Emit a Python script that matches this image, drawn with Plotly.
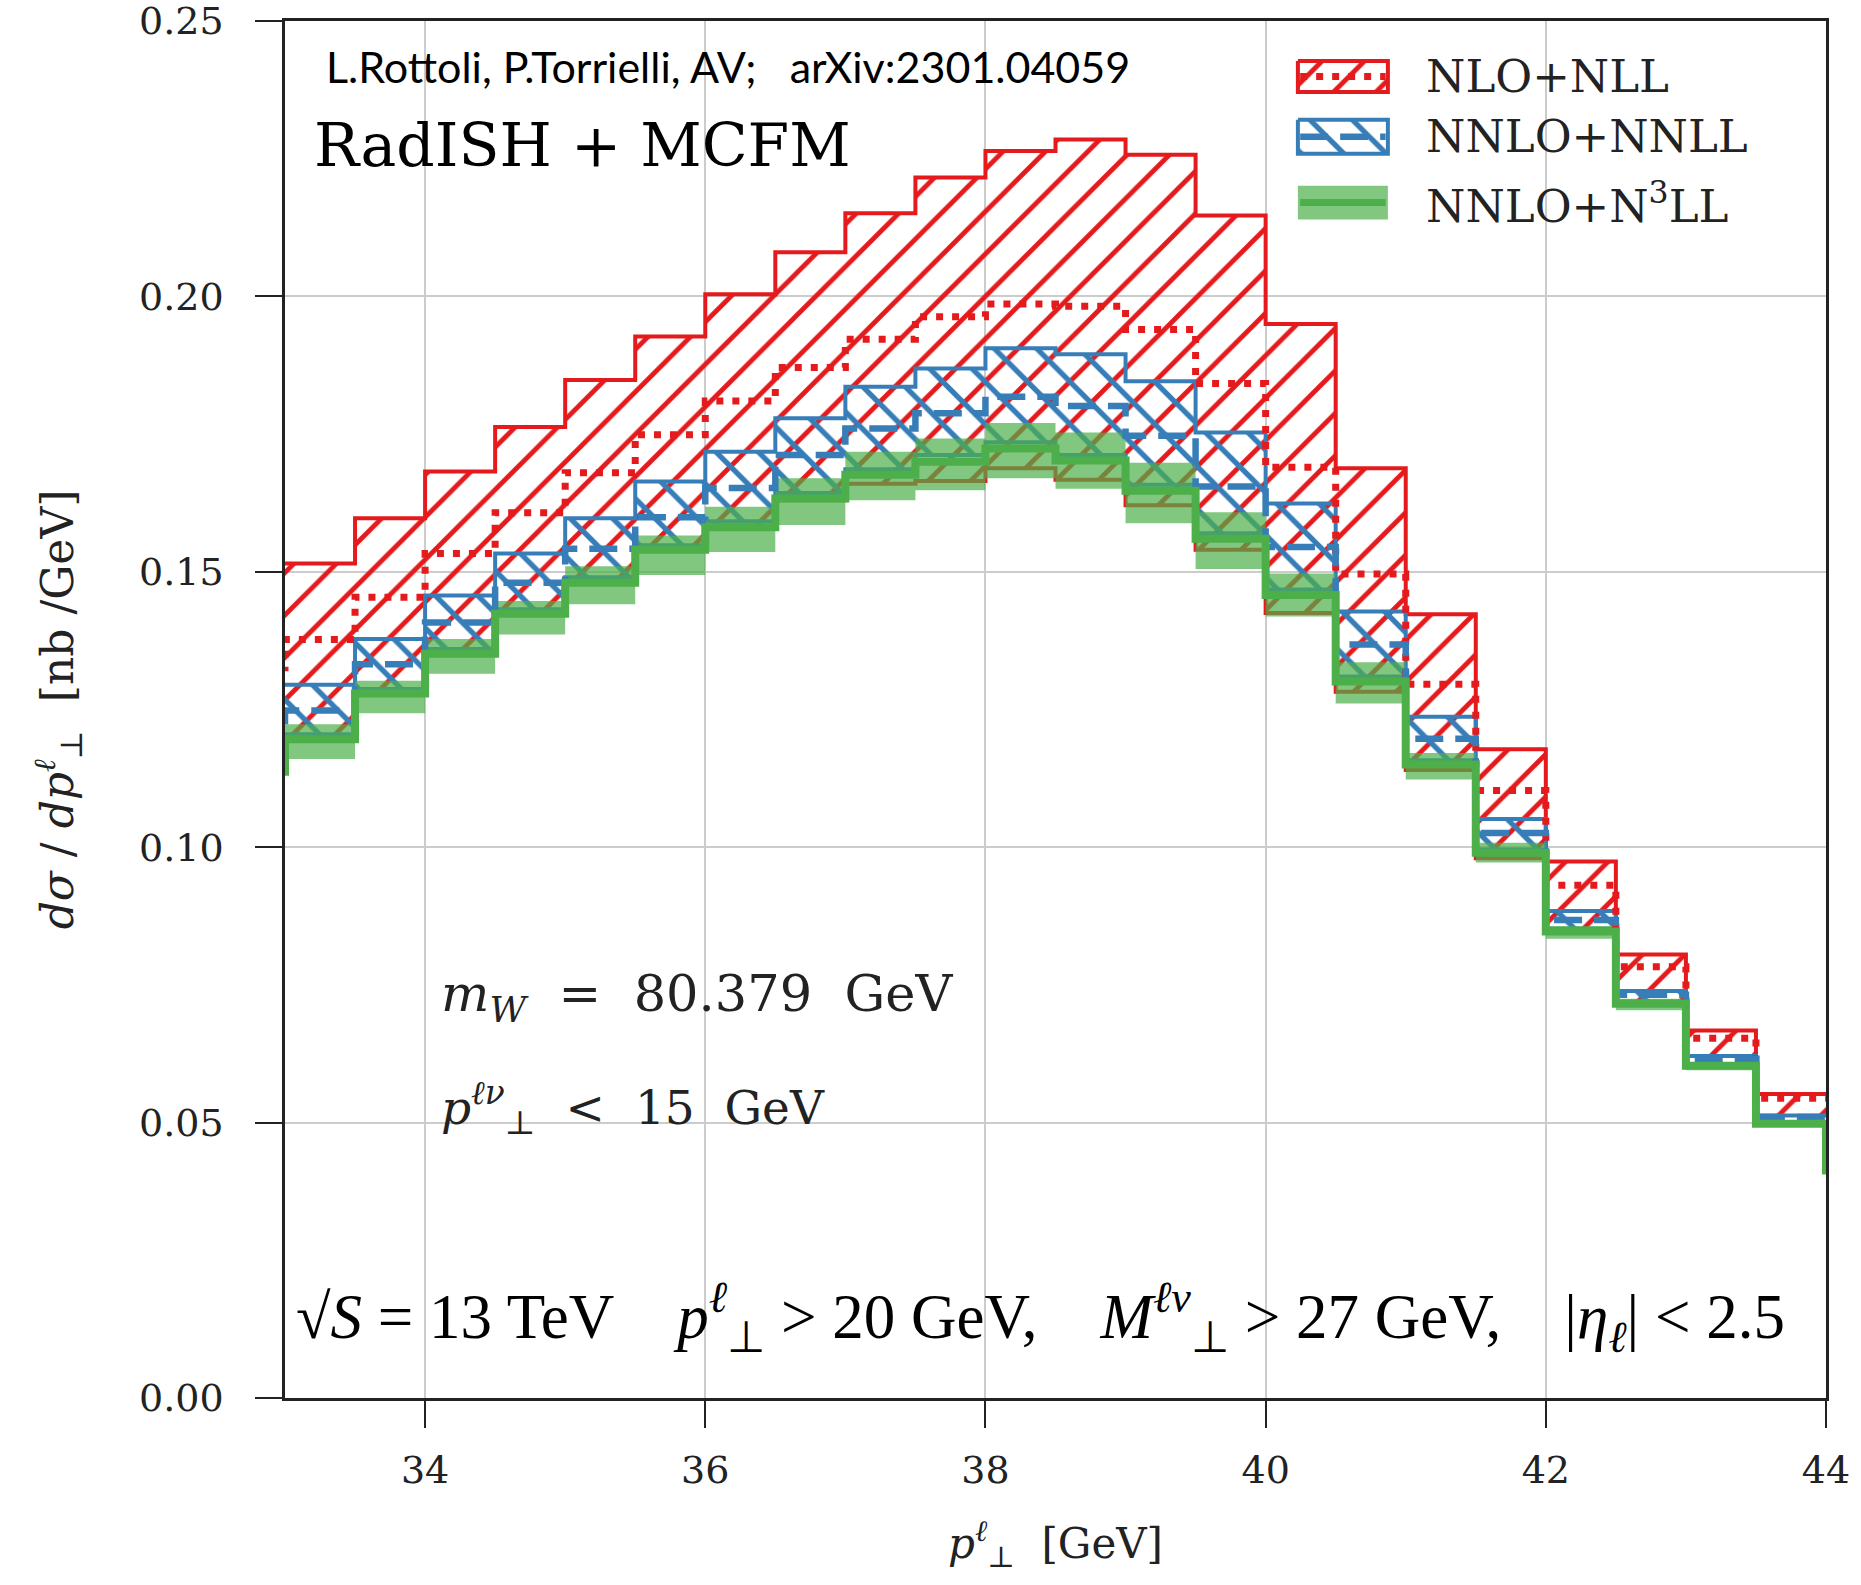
import plotly.graph_objects as go

# ---------------- data ----------------
# bin edges of the lepton transverse-momentum histogram [GeV]
edges = [33.0, 33.5, 34.0, 34.5, 35.0, 35.5, 36.0, 36.5, 37.0, 37.5, 38.0,
         38.5, 39.0, 39.5, 40.0, 40.5, 41.0, 41.5, 42.0, 42.5, 43.0, 43.5, 44.0]

# NLO+NLL  (d sigma / d pT  [nb/GeV])
nll_low = [0.1200, 0.1282, 0.1355, 0.1428, 0.1483, 0.1542, 0.1582, 0.1630, 0.1660, 0.1665, 0.1688,
           0.1667, 0.1621, 0.1540, 0.1425, 0.1282, 0.1140, 0.0980, 0.0845, 0.0714, 0.0602, 0.0497]
nll_central = [0.1377, 0.1454, 0.1533, 0.1607, 0.1680, 0.1749, 0.1810, 0.1871, 0.1922, 0.1963, 0.1986,
               0.1982, 0.1940, 0.1842, 0.1690, 0.1496, 0.1296, 0.1103, 0.0931, 0.0783, 0.0653, 0.0544]
nll_high = [0.1515, 0.1597, 0.1682, 0.1763, 0.1848, 0.1927, 0.2004, 0.2080, 0.2151, 0.2216, 0.2264,
            0.2285, 0.2257, 0.2147, 0.1950, 0.1688, 0.1423, 0.1178, 0.0974, 0.0805, 0.0667, 0.0552]

# NNLO+NNLL
nnll_low = [0.1205, 0.1287, 0.1360, 0.1432, 0.1490, 0.1548, 0.1592, 0.1643, 0.1686, 0.1712, 0.1735,
            0.1712, 0.1658, 0.1570, 0.1468, 0.1310, 0.1158, 0.0996, 0.0852, 0.0720, 0.0606, 0.0500]
nnll_central = [0.1248, 0.1332, 0.1408, 0.1480, 0.1542, 0.1599, 0.1652, 0.1712, 0.1760, 0.1788, 0.1818,
                0.1801, 0.1747, 0.1655, 0.1545, 0.1368, 0.1197, 0.1026, 0.0868, 0.0732, 0.0615, 0.0510]
nnll_high = [0.1295, 0.1378, 0.1457, 0.1533, 0.1597, 0.1664, 0.1718, 0.1779, 0.1836, 0.1869, 0.1906,
             0.1895, 0.1846, 0.1753, 0.1624, 0.1428, 0.1237, 0.1051, 0.0884, 0.0739, 0.0621, 0.0513]

# NNLO+N3LL
n3ll_low = [0.1160, 0.1243, 0.1315, 0.1386, 0.1441, 0.1494, 0.1536, 0.1585, 0.1630, 0.1648, 0.1670,
            0.1651, 0.1588, 0.1505, 0.1419, 0.1261, 0.1123, 0.0972, 0.0834, 0.0704, 0.0595, 0.0493]
n3ll_central = [0.1196, 0.1279, 0.1351, 0.1424, 0.1480, 0.1540, 0.1581, 0.1633, 0.1676, 0.1700, 0.1724,
                0.1702, 0.1647, 0.1560, 0.1458, 0.1301, 0.1150, 0.0990, 0.0847, 0.0716, 0.0603, 0.0498]
n3ll_high = [0.1223, 0.1302, 0.1378, 0.1447, 0.1510, 0.1566, 0.1618, 0.1670, 0.1718, 0.1742, 0.1770,
             0.1753, 0.1698, 0.1608, 0.1497, 0.1336, 0.1171, 0.1008, 0.0857, 0.0725, 0.0610, 0.0502]

# neighbouring bins just outside the window (only their steps at the frame are visible)
outer_edges = [32.5, 44.5]
n3ll_central_outer = [0.1137, 0.0413]
nnll_central_outer_left = 0.1205
nll_central_outer_left = 0.1326

x_ticks = [34, 36, 38, 40, 42, 44]
y_ticks = [0.00, 0.05, 0.10, 0.15, 0.20, 0.25]
x_range = [33, 44]
y_range = [0.0, 0.25]

series_names = ["NLO+NLL", "NNLO+NNLL", "NNLO+N<sup>3</sup>LL"]

# ---------------- styling ----------------
RED = "#e41a1c"
BLUE = "#377eb8"
GREEN = "#4daf4a"
GREEN_BAND = "rgba(77,175,74,0.7)"
CLEAR = "rgba(0,0,0,0)"
SERIF = "DejaVu Serif"
TIMES = "Liberation Serif"
EDGE_W = 4


def step_y(vals):
    return vals + [vals[-1]]


fig = go.Figure()


def band(lo, hi, line_color, line_width, fill_kw):
    fig.add_trace(go.Scatter(x=edges, y=step_y(lo), mode="lines",
                             line=dict(color=line_color, width=line_width, shape="hv"),
                             showlegend=False, hoverinfo="skip"))
    fig.add_trace(go.Scatter(x=edges, y=step_y(hi), mode="lines", fill="tonexty",
                             line=dict(color=line_color, width=line_width, shape="hv"),
                             showlegend=False, hoverinfo="skip", **fill_kw))


red_pattern = dict(shape="/", fgcolor=RED, bgcolor=CLEAR, fgopacity=1, fillmode="replace",
                   size=30, solidity=0.16)
blue_pattern = dict(shape="\\", fgcolor=BLUE, bgcolor=CLEAR, fgopacity=1, fillmode="replace",
                    size=30, solidity=0.18)

band(nll_low, nll_high, RED, EDGE_W, dict(fillcolor=RED, fillpattern=red_pattern))
band(nnll_low, nnll_high, BLUE, EDGE_W, dict(fillcolor=BLUE, fillpattern=blue_pattern))
band(n3ll_low, n3ll_high, CLEAR, 0, dict(fillcolor=GREEN_BAND))

RED_DOT = "7px,9px"
BLUE_DASH = "28px,12px"

fig.add_trace(go.Scatter(x=[outer_edges[0]] + edges,
                         y=[nll_central_outer_left] + step_y(nll_central), mode="lines",
                         line=dict(color=RED, width=7, shape="hv", dash=RED_DOT),
                         showlegend=False, hoverinfo="skip"))
fig.add_trace(go.Scatter(x=[outer_edges[0]] + edges,
                         y=[nnll_central_outer_left] + step_y(nnll_central), mode="lines",
                         line=dict(color=BLUE, width=6.5, shape="hv", dash=BLUE_DASH),
                         showlegend=False, hoverinfo="skip"))
fig.add_trace(go.Scatter(x=[outer_edges[0]] + edges + [outer_edges[1]],
                         y=[n3ll_central_outer[0]] + n3ll_central + [n3ll_central_outer[1]] * 2,
                         mode="lines", line=dict(color=GREEN, width=8, shape="hv"),
                         showlegend=False, hoverinfo="skip"))

# ---------------- legend key (inset axes, unit boxes) ----------------
key_box_x = [0.1, 0.9, 0.9, 0.1, 0.1]
key_rows = [(7, 38), (66, 100), (132, 166)]
key_styles = [
    dict(line=dict(color=RED, width=EDGE_W), fillcolor=RED, fillpattern=red_pattern),
    dict(line=dict(color=BLUE, width=EDGE_W), fillcolor=BLUE, fillpattern=blue_pattern),
    dict(line=dict(color=CLEAR, width=0), fillcolor=GREEN_BAND),
]
key_lines = [dict(color=RED, width=7, dash=RED_DOT),
             dict(color=BLUE, width=6.5, dash=BLUE_DASH),
             dict(color=GREEN, width=7)]
for (top, bot), sty, ln in zip(key_rows, key_styles, key_lines):
    fig.add_trace(go.Scatter(x=key_box_x, y=[top, top, bot, bot, top], mode="lines",
                             fill="toself", xaxis="x2", yaxis="y2",
                             showlegend=False, hoverinfo="skip", **sty))
    mid = (top + bot) / 2
    fig.add_trace(go.Scatter(x=[0.12, 0.88], y=[mid, mid], mode="lines", line=ln,
                             xaxis="x2", yaxis="y2", showlegend=False, hoverinfo="skip"))

# ---------------- layout ----------------
axis_common = dict(showline=True, linecolor="#222222", linewidth=2.5, mirror=True,
                   ticks="outside", ticklen=27, tickwidth=2, tickcolor="#222222",
                   showgrid=True, gridcolor="#cccccc", gridwidth=2, zeroline=False,
                   ticklabeloverflow="allow", automargin=False,
                   tickfont=dict(family=SERIF, size=38, color="#222222"))

fig.update_layout(
    width=1861, height=1585, autosize=False,
    margin=dict(l=285, r=35, t=21, b=187),
    paper_bgcolor="white", plot_bgcolor="white",
    showlegend=False,
    xaxis=dict(range=x_range, tickvals=x_ticks, ticktext=[str(t) for t in x_ticks],
               ticklabelstandoff=10,
               title=dict(text="<i>p</i><sup><i>ℓ</i></sup><sub>⊥</sub>  [GeV]",
                          font=dict(family=SERIF, size=42, color="#222222"), standoff=38),
               **axis_common),
    yaxis=dict(range=y_range, tickvals=y_ticks, tickformat=".2f",
               ticklabelstandoff=24,
               title=dict(text="<i>dσ</i> / <i>dp</i><sup><i>ℓ</i></sup><sub>⊥</sub>  [nb /GeV]",
                          font=dict(family=SERIF, size=44, color="#222222"), standoff=52),
               **axis_common),
    xaxis2=dict(domain=[0.650, 0.723], range=[0, 1], visible=False, anchor="y2",
                fixedrange=True, automargin=False),
    yaxis2=dict(domain=[0.850, 0.976], range=[174, 0], visible=False, anchor="x2",
                fixedrange=True, automargin=False),
)

NB = "\u00a0"
annotations = [
    dict(x=0.0253, y=0.9673, text=f"L.Rottoli, P.Torrielli, AV;{NB*3}arXiv:2301.04059",
         font=dict(family="Lato", size=43, color="black")),
    dict(x=0.0175, y=0.910, text="RadISH + MCFM",
         font=dict(family=SERIF, size=60, color="black")),
    dict(x=0.0999, y=0.2912, text=f"<i>m</i><sub><i>W</i></sub>{NB*2}={NB*2}80.379{NB*2}GeV",
         font=dict(family=SERIF, size=51, color="#222222")),
    dict(x=0.0999, y=0.2113, text=f"<i>p</i><sup><i>ℓν</i></sup><sub>⊥</sub>{NB*2}&lt;{NB*2}15{NB*2}GeV",
         font=dict(family=SERIF, size=47, color="#222222")),
    dict(x=0.0058, y=0.0581,
         text=(f"√<i>S</i> = 13 TeV{NB*4}<i>p</i><sup><i>ℓ</i></sup><sub>⊥</sub> &gt; 20 GeV,{NB*4}"
               f"<i>M</i><sup><i>ℓν</i></sup><sub>⊥</sub> &gt; 27 GeV,{NB*4}|<i>η</i><sub><i>ℓ</i></sub>| &lt; 2.5"),
         font=dict(family=TIMES, size=63, color="black")),
]
key_text_y = [0.9597, 0.9158, 0.8678]
for name, yy in zip(series_names, key_text_y):
    annotations.append(dict(x=0.739, y=yy, text=name,
                            font=dict(family=SERIF, size=45, color="#222222")))

for a in annotations:
    a.update(xref="paper", yref="paper", xanchor="left", yanchor="middle", showarrow=False)
fig.update_layout(annotations=annotations)

fig.write_html("out.html")
